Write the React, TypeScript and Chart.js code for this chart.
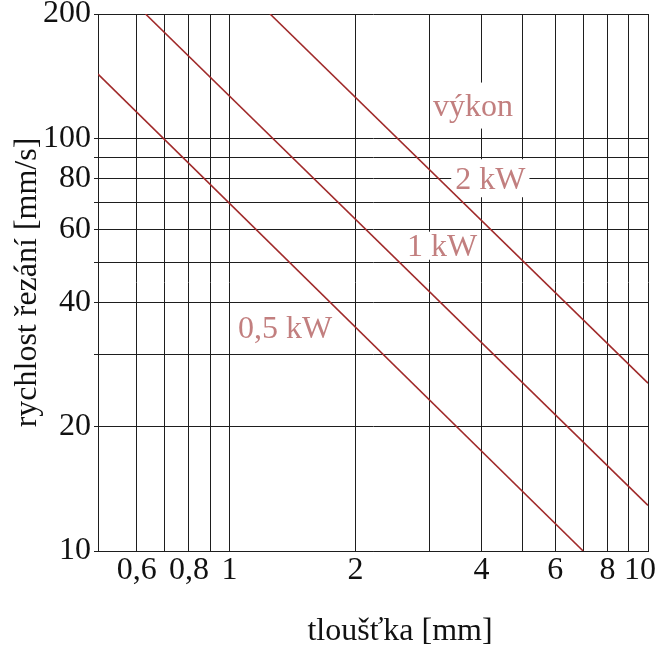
import React, { useEffect, useRef } from "react";
import { Chart, registerables } from "chart.js";

Chart.register(...registerables);

// ---- data ----
const xGridTicks = [0.6, 0.7, 0.8, 0.9, 1, 2, 3, 4, 5, 6, 7, 8, 9, 10];
const xLabeledTicks = [0.6, 0.8, 1, 2, 4, 6, 8, 10];
const yGridTicks = [10, 20, 30, 40, 50, 60, 70, 80, 90, 100, 200];
const yLabeledTicks = [10, 20, 40, 60, 80, 100, 200];

const seriesNames = ["0,5 kW", "1 kW", "2 kW"];
const series05 = [
  { x: 0.485, y: 143 },
  { x: 7.0, y: 10 },
];
const series1 = [
  { x: 0.63, y: 200 },
  { x: 10, y: 12.9 },
];
const series2 = [
  { x: 1.25, y: 200 },
  { x: 10, y: 25.5 },
];

const noteTexts = ["výkon", "2 kW", "1 kW", "0,5 kW"];
const noteX = [3.82, 4.2, 3.22, 1.358];
const noteY = [120, 80, 54.9, 34.7];

const xTitle = "tloušťka [mm]";
const yTitle = "rychlost řezání [mm/s]";

// ---- styles ----
const FONT = '"Liberation Serif", "Times New Roman", serif';
const FONT_SIZE = 32;
const LINE_COLOR = "#a02a2a";
const NOTE_COLOR = "#c27f7f";
const GRID_COLOR = "#1e1e1e";
const noteBoxPadX = [2, 4, 1, 0];
const noteBoxHalfH = [23, 19, 14, 10];

const fmt = (v: number) => String(v).replace(".", ",");

const notesPlugin = {
  id: "notes",
  beforeDatasetsDraw(chart: any) {
    const { ctx, scales } = chart;
    const xs = scales.x;
    const ys = scales.y;
    ctx.save();
    ctx.font = `${FONT_SIZE}px ${FONT}`;
    ctx.textAlign = "center";
    ctx.textBaseline = "middle";
    noteTexts.forEach((t, i) => {
      const px = xs.getPixelForValue(noteX[i]);
      const py = ys.getPixelForValue(noteY[i]);
      const w = ctx.measureText(t).width;
      ctx.fillStyle = "#ffffff";
      ctx.fillRect(
        px - w / 2 - noteBoxPadX[i],
        py - noteBoxHalfH[i],
        w + 2 * noteBoxPadX[i],
        2 * noteBoxHalfH[i]
      );
      ctx.fillStyle = NOTE_COLOR;
      ctx.fillText(t, px, py + 2);
    });
    ctx.restore();
  },
  afterDraw(chart: any) {
    const { ctx, chartArea } = chart;
    ctx.save();
    ctx.font = `${FONT_SIZE}px ${FONT}`;
    ctx.textAlign = "center";
    ctx.textBaseline = "middle";
    ctx.fillStyle = "#111";
    ctx.fillText(xTitle, (chartArea.left + chartArea.right) / 2 + 27, chartArea.bottom + 81);
    ctx.restore();
  },
};

export default function App() {
  const ref = useRef<HTMLCanvasElement | null>(null);

  useEffect(() => {
    if (!ref.current) return;
    const mk = (label: string, data: any[]) => ({
      label,
      data,
      borderColor: LINE_COLOR,
      backgroundColor: LINE_COLOR,
      borderWidth: 1.6,
      pointRadius: 0,
      fill: false,
      tension: 0,
    });
    const chart = new Chart(ref.current, {
      type: "line",
      data: {
        datasets: [
          mk(seriesNames[0], series05),
          mk(seriesNames[1], series1),
          mk(seriesNames[2], series2),
        ],
      },
      options: {
        animation: false,
        responsive: false,
        layout: { padding: { top: 14, right: 8, left: 0, bottom: 0 } },
        plugins: {
          legend: { display: false },
          tooltip: { enabled: false },
        },
        scales: {
          x: {
            type: "logarithmic",
            min: 0.485,
            max: 10,
            afterBuildTicks: (s: any) => {
              s.ticks = xGridTicks.map((v) => ({ value: v }));
            },
            afterFit: (s: any) => {
              s.height = 99;
              s.paddingLeft = 0;
              s.paddingRight = 0;
            },
            ticks: {
              autoSkip: false,
              maxRotation: 0,
              minRotation: 0,
              padding: 0,
              color: "#111",
              font: { family: FONT, size: FONT_SIZE },
              callback: (v: any) => {
                const n = Number(v);
                if (!xLabeledTicks.includes(n)) return "";
                // last label kept inside the canvas, as in the original
                return n === 10 ? fmt(n) + "\u2002" : fmt(n);
              },
            },
            grid: { color: GRID_COLOR, lineWidth: 1, drawTicks: false },
            border: { color: GRID_COLOR, width: 1 },
          },
          y: {
            type: "logarithmic",
            min: 10,
            max: 200,
            afterBuildTicks: (s: any) => {
              s.ticks = yGridTicks.map((v) => ({ value: v }));
            },
            afterFit: (s: any) => {
              s.width = 98;
              s.paddingTop = 0;
              s.paddingBottom = 0;
            },
            ticks: {
              autoSkip: false,
              padding: 3,
              color: "#111",
              font: { family: FONT, size: FONT_SIZE },
              callback: (v: any) => (yLabeledTicks.includes(Number(v)) ? fmt(Number(v)) : ""),
            },
            grid: { color: GRID_COLOR, lineWidth: 1, drawTicks: true, tickLength: 4 },
            border: { color: GRID_COLOR, width: 1 },
            title: {
              display: true,
              text: yTitle,
              color: "#111",
              font: { family: FONT, size: FONT_SIZE },
              padding: { top: 8, bottom: 0 },
            },
          },
        },
      },
      plugins: [notesPlugin],
    });
    return () => chart.destroy();
  }, []);

  return (
    <div style={{ position: "absolute", left: 0, top: 0, width: 656, height: 650, background: "#fff" }}>
      <canvas ref={ref} width={656} height={650} style={{ display: "block" }} />
    </div>
  );
}
